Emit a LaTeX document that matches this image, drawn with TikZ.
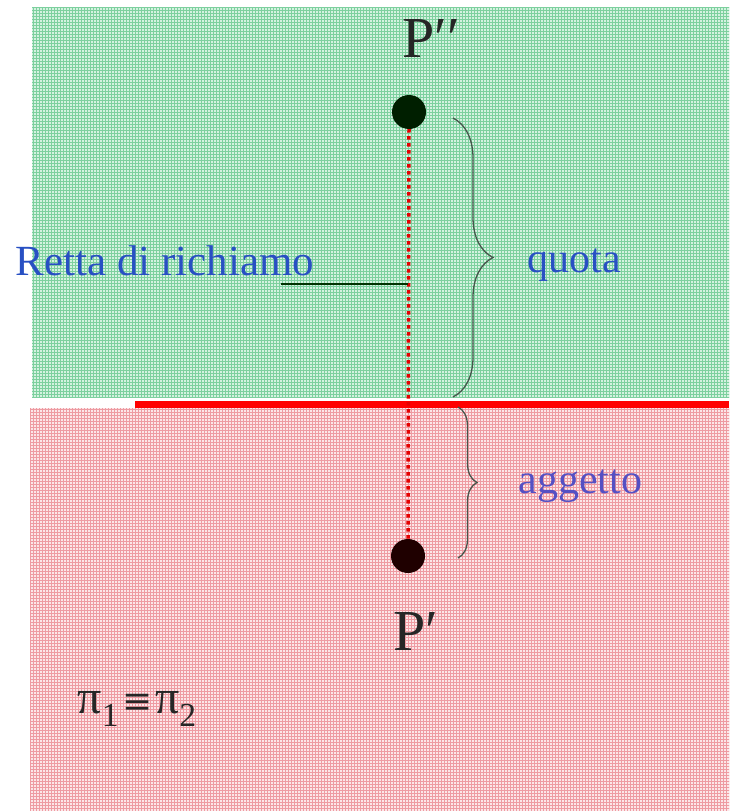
\documentclass[tikz,border=0pt]{standalone}
\usepackage{fontspec}
\setmainfont{Liberation Serif}
\newfontfamily\eqvfont{DejaVu Serif}
\usepackage{tikz}
\usetikzlibrary{positioning,patterns,decorations.pathreplacing}
\definecolor{mint}{RGB}{212,242,224}
\definecolor{gridgreen}{RGB}{125,208,158}
\definecolor{blush}{RGB}{252,230,232}
\definecolor{gridred}{RGB}{238,155,162}
\definecolor{labelblue}{RGB}{40,80,195}
\definecolor{labelviolet}{RGB}{85,80,195}
\definecolor{bracegray}{RGB}{70,85,75}

\begin{document}
\begin{tikzpicture}[
  x=1pt, y=-1pt,
  point/.style={circle, inner sep=0pt, minimum size=34pt},
  ptlabel/.style={anchor=base, font=\fontsize{58}{58}\selectfont, text=black!85},
  sidelabel/.style={anchor=base west, font=\fontsize{42}{42}\selectfont},
  curly/.style={decorate, decoration={brace, amplitude=#1}, draw=bracegray, line width=1.3pt},
  callline/.style={red!90!black, line width=3.5pt, dash pattern=on 3.5pt off 3.5pt},
  leader/.style={draw=black!80!green, line width=1.5pt}
]
\useasboundingbox (0,0) rectangle (729,811);

\fill[mint] (32,7) rectangle (729,397);
\fill[pattern=grid, pattern color=gridgreen] (32,7) rectangle (729,397);
\fill[blush] (30,408) rectangle (729,811);
\fill[pattern=grid, pattern color=gridred] (30,408) rectangle (729,811);
\draw[red, line width=7pt] (135,404) -- (729,404);

\node[point, fill=black!88!green] (psec) at (409,112) {};
\node[point, fill=black!88!red] (pprim) at (408,556) {};
\node[ptlabel] (psectext) at (431,57) {P′′};
\node[ptlabel] (pprimtext) at (416,650) {P′};

\draw[callline] (psec.south) -- (pprim.north);

\node[sidelabel, text=labelblue, font=\fontsize{43}{43}\selectfont] (retta) at (12,275) {Retta di richiamo};
\coordinate (lead) at (281,284);
\coordinate (foot) at (408,284);
\draw[leader] (lead) -- (foot);

\coordinate (qtop) at (453,118);
\coordinate (qbot) at (453,397);
\draw[curly=40pt] (qtop) -- (qbot);
\node[sidelabel, text=labelblue] (quota) at (524,272) {quota};

\coordinate (atop) at (458,407);
\coordinate (abot) at (458,558);
\draw[curly=19pt] (atop) -- (abot);
\node[sidelabel, text=labelviolet] (aggetto) at (515,493) {aggetto};

\node[sidelabel, text=black!85, font=\fontsize{48}{48}\selectfont] (planes) at (74,713) {π\textsubscript{1}\kern3pt{\eqvfont\fontsize{36}{36}\selectfont ≡}\kern3ptπ\textsubscript{2}};
\end{tikzpicture}
\end{document}
